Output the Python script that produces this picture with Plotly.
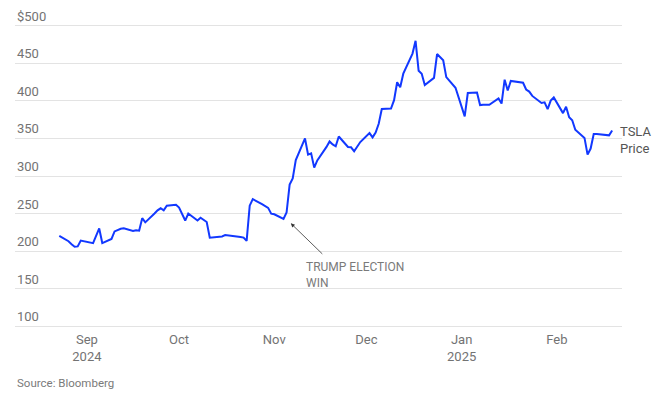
import plotly.graph_objects as go

dates = [
    "2024-08-23", "2024-08-26", "2024-08-27", "2024-08-28", "2024-08-29", "2024-08-30",
    "2024-09-03", "2024-09-04", "2024-09-05", "2024-09-06", "2024-09-09", "2024-09-10",
    "2024-09-11", "2024-09-12", "2024-09-13", "2024-09-16", "2024-09-17", "2024-09-18",
    "2024-09-19", "2024-09-20", "2024-09-23", "2024-09-24", "2024-09-25", "2024-09-26",
    "2024-09-27", "2024-09-30", "2024-10-01", "2024-10-02", "2024-10-03", "2024-10-04",
    "2024-10-07", "2024-10-08", "2024-10-09", "2024-10-10", "2024-10-11", "2024-10-14",
    "2024-10-15", "2024-10-16", "2024-10-17", "2024-10-18", "2024-10-21", "2024-10-22",
    "2024-10-23", "2024-10-24", "2024-10-25", "2024-10-28", "2024-10-29", "2024-10-30",
    "2024-10-31", "2024-11-01", "2024-11-04", "2024-11-05", "2024-11-06", "2024-11-07",
    "2024-11-08", "2024-11-11", "2024-11-12", "2024-11-13", "2024-11-14", "2024-11-15",
    "2024-11-18", "2024-11-19", "2024-11-20", "2024-11-21", "2024-11-22", "2024-11-25",
    "2024-11-26", "2024-11-27", "2024-11-29", "2024-12-02", "2024-12-03", "2024-12-04",
    "2024-12-05", "2024-12-06", "2024-12-09", "2024-12-10", "2024-12-11", "2024-12-12",
    "2024-12-13", "2024-12-16", "2024-12-17", "2024-12-18", "2024-12-19", "2024-12-20",
    "2024-12-23", "2024-12-24", "2024-12-26", "2024-12-27", "2024-12-30", "2024-12-31",
    "2025-01-02", "2025-01-03", "2025-01-06", "2025-01-07", "2025-01-08", "2025-01-10",
    "2025-01-13", "2025-01-14", "2025-01-15", "2025-01-16", "2025-01-17", "2025-01-21",
    "2025-01-22", "2025-01-23", "2025-01-24", "2025-01-27", "2025-01-28", "2025-01-29",
    "2025-01-30", "2025-01-31", "2025-02-03", "2025-02-04", "2025-02-05", "2025-02-06",
    "2025-02-07", "2025-02-10", "2025-02-11", "2025-02-12", "2025-02-13", "2025-02-14",
    "2025-02-18", "2025-02-19",
]
prices = [
    220.3, 213.2, 209.2, 205.8, 206.3, 214.1,
    210.6, 219.4, 230.2, 210.7, 216.3, 226.2,
    228.1, 229.8, 230.3, 226.8, 227.9, 227.2,
    243.9, 238.3, 250.0, 254.3, 257.0, 254.2,
    260.5, 261.6, 258.0, 249.0, 240.7, 250.1,
    240.8, 244.5, 241.1, 238.8, 217.8, 219.2,
    219.6, 221.3, 220.9, 220.7, 218.9, 218.0,
    213.7, 260.5, 269.2, 262.5, 259.5, 257.6,
    249.9, 249.0, 242.8, 251.4, 288.5, 296.9,
    321.2, 350.0, 328.5, 330.2, 311.2, 320.7,
    338.7, 346.0, 342.0, 339.6, 352.6, 338.6,
    338.2, 332.9, 345.2, 357.1, 351.4, 357.9,
    369.5, 389.2, 389.8, 401.0, 424.8, 418.1,
    436.2, 463.0, 479.9, 440.1, 436.2, 421.1,
    430.6, 462.3, 454.1, 431.7, 417.4, 403.8,
    379.3, 410.4, 411.1, 394.4, 394.9, 394.7,
    403.3, 396.4, 428.2, 413.8, 426.5, 424.1,
    415.1, 412.4, 406.6, 397.2, 398.1, 389.1,
    400.3, 404.6, 383.7, 392.2, 378.2, 374.3,
    361.6, 350.7, 328.5, 336.5, 355.9, 355.8,
    354.1, 360.6,
]

y_tick_values = [100, 150, 200, 250, 300, 350, 400, 450, 500]
y_tick_labels = ["100", "150", "200", "250", "300", "350", "400", "450", "$500"]
x_tick_values = ["2024-09-01", "2024-10-01", "2024-11-01", "2024-12-01", "2025-01-01", "2025-02-01"]
x_tick_labels = ["Sep<br>2024", "Oct", "Nov", "Dec", "Jan<br>2025", "Feb"]

FONT = "Roboto"
GREY = "#737373"
BLUE = "#1238ff"

fig = go.Figure()
fig.add_trace(go.Scatter(
    x=dates, y=prices, mode="lines",
    line=dict(color=BLUE, width=2),
    hoverinfo="x+y", showlegend=False,
))

annotations = []
for v, t in zip(y_tick_values, y_tick_labels):
    annotations.append(dict(
        xref="paper", x=0, yref="y", y=v, text=t, showarrow=False,
        xanchor="left", yanchor="bottom", yshift=0,
        font=dict(family=FONT, size=13, color=GREY),
    ))

# Election arrow
annotations.append(dict(
    xref="x", yref="y", x="2024-11-06 09:00", y=237, text="",
    showarrow=True, ax=33, ay=32, arrowhead=2, arrowsize=1, arrowwidth=0.8,
    arrowcolor="#333333", standoff=0,
))
annotations.append(dict(
    xref="x", yref="y", x="2024-11-10 14:00", y=191, text="TRUMP ELECTION<br>WIN",
    showarrow=False, xanchor="left", yanchor="top", align="left",
    font=dict(family=FONT, size=12, color="#7a7a7a"),
))
# Line label
annotations.append(dict(
    xref="x", yref="y", x=dates[-1], y=372, text="TSLA<br>Price",
    showarrow=False, xanchor="left", yanchor="top", align="left", xshift=6,
    font=dict(family=FONT, size=13, color="#555555"),
))
# Source
annotations.append(dict(
    xref="paper", yref="paper", x=0, y=-0.173, text="Source: Bloomberg",
    showarrow=False, xanchor="left", yanchor="middle",
    font=dict(family=FONT, size=11.5, color="#7a7a7a"),
))

fig.update_layout(
    width=668, height=398,
    margin=dict(l=15, r=46, t=22, b=68),
    paper_bgcolor="white", plot_bgcolor="white",
    annotations=annotations,
    xaxis=dict(
        type="date",
        range=["2024-08-08 14:00", "2025-02-22 05:00"],
        tickvals=x_tick_values, ticktext=x_tick_labels,
        showgrid=False, showline=False, zeroline=False, ticks="",
        tickfont=dict(family=FONT, size=13, color=GREY),
    ),
    yaxis=dict(
        range=[95, 505],
        tickvals=y_tick_values, showticklabels=False,
        showgrid=True, gridcolor="#e3e3e3", gridwidth=1,
        showline=False, zeroline=False, ticks="",
    ),
    font=dict(family=FONT),
)

fig.write_html(
    "out.html",
    config={"displayModeBar": False},
    post_script="document.body.style.margin='0';document.body.style.overflow='hidden';",
)
